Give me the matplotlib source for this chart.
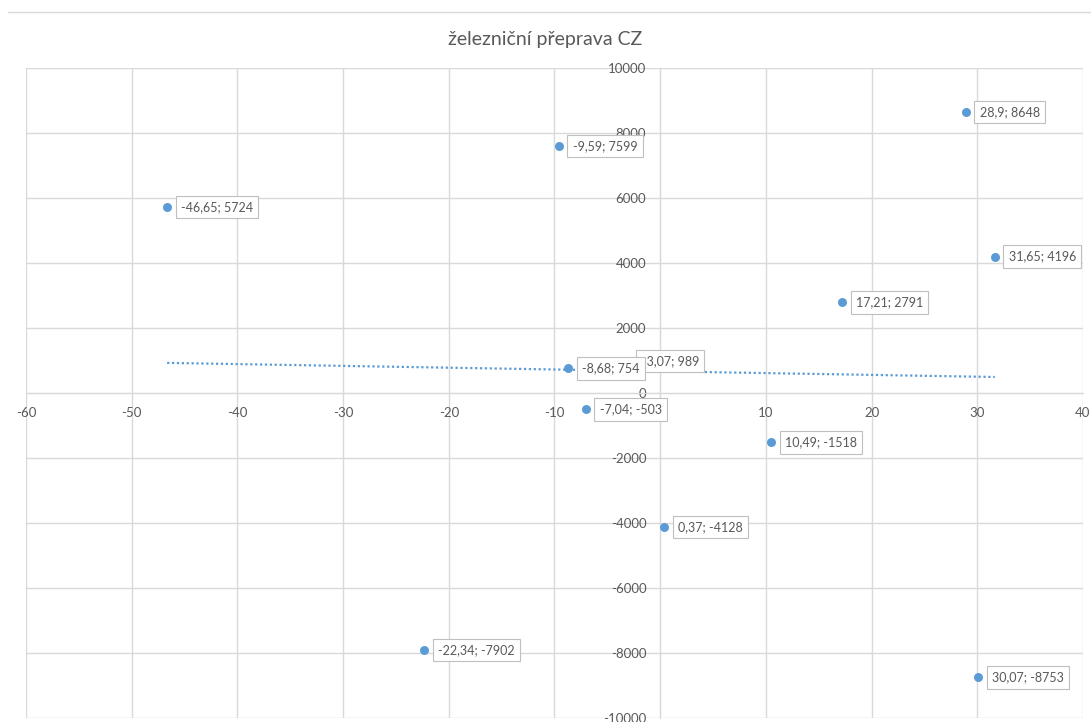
import numpy as np
import matplotlib
matplotlib.use("Agg")
import matplotlib.pyplot as plt
from matplotlib.lines import Line2D

plt.rcParams['font.family'] = ['Lato', 'DejaVu Sans']

title = "železniční přeprava CZ"
x_vals = [-46.65, -9.59, 28.9, 31.65, 17.21, -3.07, -8.68, -7.04, 10.49, 0.37, -22.34, 30.07]
y_vals = [5724, 7599, 8648, 4196, 2791, 989, 754, -503, -1518, -4128, -7902, -8753]
x_ticks = list(range(-60, 41, 10))
y_ticks = list(range(-10000, 10001, 2000))

BLUE = "#5b9bd5"
GRID = "#d9d9d9"
TXT = "#595959"

W, H = 1091, 722
fig = plt.figure(figsize=(W / 100, H / 100), dpi=100)
ax = fig.add_axes([26 / W, 4 / H, (1083 - 26) / W, (718 - 68) / H])

ax.set_xlim(-60, 40)
ax.set_ylim(-10000, 10000)
ax.set_xticks(x_ticks)
ax.set_yticks(y_ticks)
ax.set_xticklabels([str(v) for v in x_ticks])
ax.set_yticklabels([str(v) for v in y_ticks])
ax.grid(True, color=GRID, lw=1)
ax.set_axisbelow(True)

for side in ("top", "right"):
    ax.spines[side].set_visible(False)
ax.spines["left"].set_position("zero")
ax.spines["bottom"].set_position("zero")
ax.spines["left"].set_color(GRID)
ax.spines["bottom"].set_color(GRID)
ax.tick_params(length=0, labelsize=9.5, colors=TXT)
ax.tick_params(axis="x", pad=10)
ax.tick_params(axis="y", pad=10)

# linear trendline across the data range
k, q = np.polyfit(x_vals, y_vals, 1)
xt = np.array([min(x_vals), max(x_vals)])
ax.plot(xt, k * xt + q, ls=(0, (1, 1.2)), color=BLUE, lw=1.6, zorder=3)

ax.scatter(x_vals, y_vals, s=42, color=BLUE, zorder=4, linewidths=0)

for i, (xv, yv) in enumerate(zip(x_vals, y_vals)):
    lbl = f"{xv:g}".replace(".", ",") + f"; {yv}"
    ax.annotate(lbl, (xv, yv), xytext=(10, 0), textcoords="offset points",
                ha="left", va="center", fontsize=9, color=TXT, zorder=5 + i,
                bbox=dict(boxstyle="square,pad=0.42", fc="white", ec="#bfbfbf", lw=0.8))

fig.text(0.5, 1 - 40 / H, title, ha="center", va="center", fontsize=14, color=TXT)
fig.add_artist(Line2D([8 / W, 1], [1 - 12 / H] * 2, color=GRID, lw=1))

fig.savefig("out.png", dpi=100)
